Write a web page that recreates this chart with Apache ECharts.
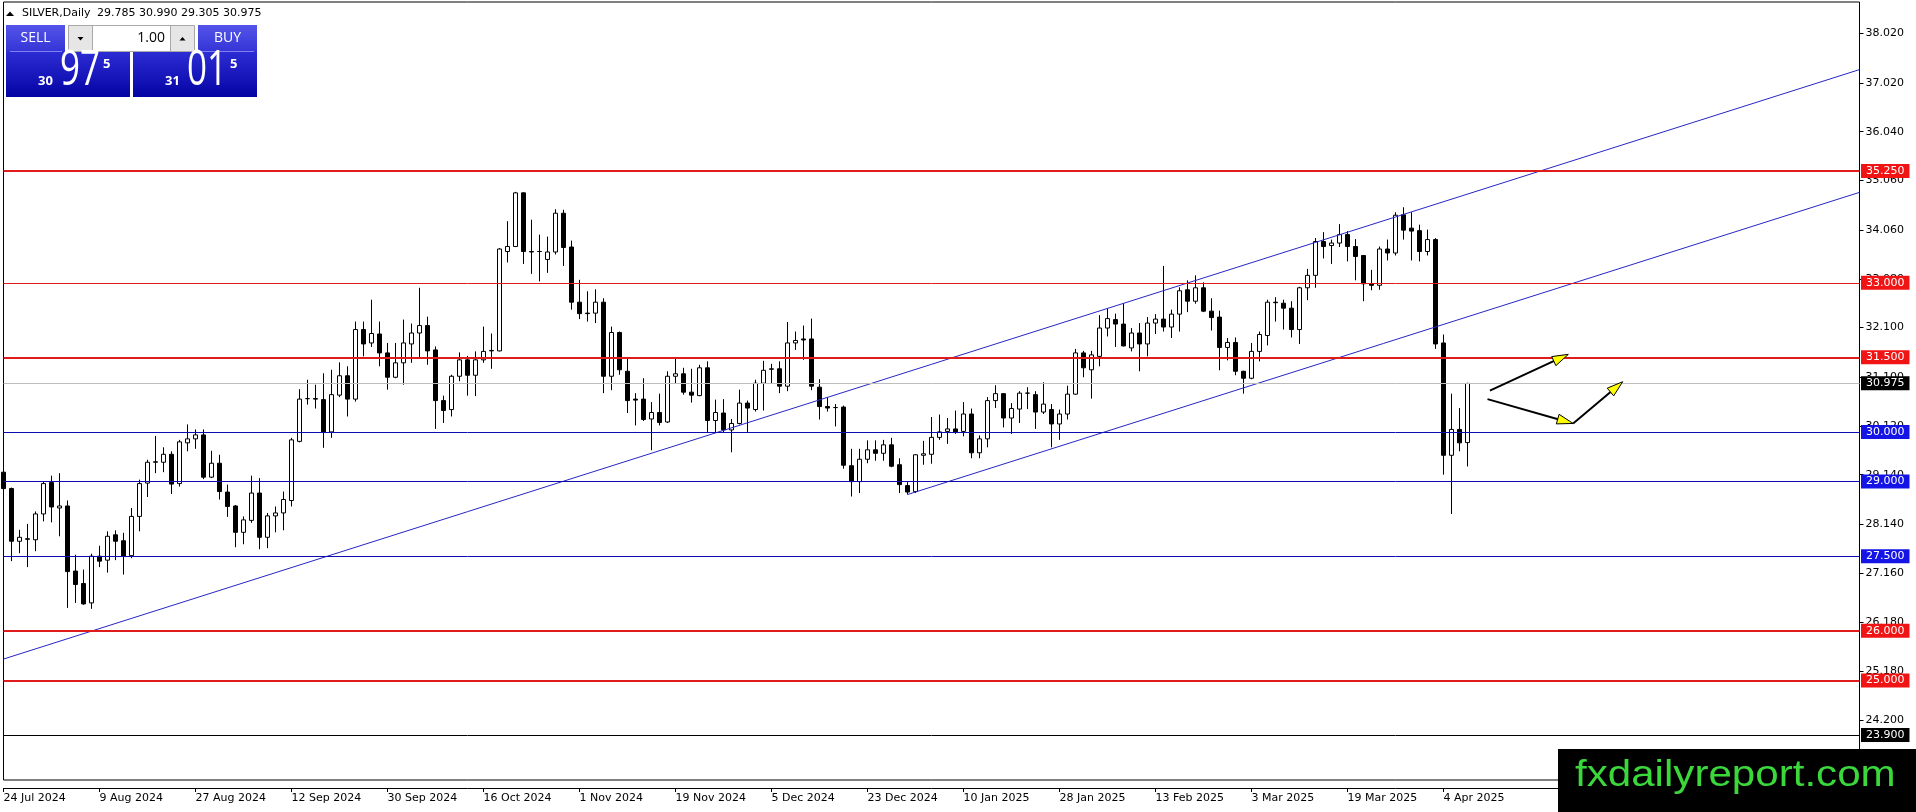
<!DOCTYPE html>
<html>
<head>
<meta charset="utf-8">
<title>SILVER, Daily</title>
<script src="https://cdn.jsdelivr.net/npm/echarts@6/dist/echarts.min.js"></script>
<style>
  html, body { margin: 0; padding: 0; background: #fff; }
  #chart { width: 1916px; height: 812px; }
</style>
</head>
<body>
<div id="chart"></div>
<script>
// ---- daily bars, 24 Jul 2024 .. 9 Apr 2025 ----
const opens = [
  29.19, 28.86, 27.80, 27.85, 27.83, 28.35, 28.98, 28.47, 28.51, 27.20,
  26.95, 26.56, 27.50, 27.42, 27.93, 27.81, 27.51, 28.30, 28.97, 29.39,
  29.39, 29.55, 28.96, 29.78, 29.86, 29.94, 29.09, 29.37, 28.79, 28.51,
  27.98, 28.22, 28.77, 27.88, 28.31, 28.37, 28.62, 29.81, 30.67, 30.67,
  30.65, 30.00, 30.74, 31.13, 30.66, 32.06, 31.79, 31.97, 31.59, 31.10,
  31.39, 31.77, 31.99, 32.14, 31.65, 30.63, 30.45, 31.12, 31.45, 31.14,
  31.45, 31.63, 31.63, 33.63, 33.73, 34.81, 33.63, 33.63, 33.47, 33.62,
  34.40, 33.72, 32.61, 32.39, 32.39, 32.61, 31.12, 32.00, 31.22, 30.66,
  30.66, 30.26, 30.39, 30.20, 31.12, 31.17, 30.80, 30.73, 31.29, 30.23,
  30.38, 30.04, 30.17, 30.58, 30.45, 30.98, 31.26, 31.27, 30.92, 31.79,
  31.87, 31.87, 30.90, 30.51, 30.49, 30.50, 29.32, 29.00, 29.45, 29.64,
  29.57, 29.74, 29.34, 28.92, 28.80, 29.53, 29.55, 29.89, 30.01, 30.06,
  30.01, 30.36, 29.58, 29.86, 30.63, 30.77, 30.28, 30.46, 30.78, 30.75,
  30.40, 30.45, 30.16, 30.36, 30.76, 31.59, 31.25, 31.52, 32.09, 32.26,
  32.17, 31.69, 31.99, 31.77, 32.19, 32.27, 32.11, 32.37, 32.86, 32.63,
  32.90, 32.43, 32.31, 31.70, 31.80, 31.22, 31.08, 31.62, 31.94, 32.61,
  32.59, 32.49, 32.06, 32.90, 33.15, 33.83, 33.75, 33.80, 33.97, 33.73,
  33.55, 32.98, 32.95, 33.68, 33.60, 34.37, 34.10, 34.05, 33.63, 33.87,
  31.79, 29.53, 30.05, 29.785
];
const highs = [
  29.41, 28.88, 28.03, 28.15, 28.40, 29.00, 29.12, 29.17, 28.62, 27.53,
  27.23, 27.55, 27.71, 28.00, 28.02, 27.97, 28.47, 29.04, 29.44, 29.92,
  29.69, 29.61, 29.84, 30.15, 30.05, 30.05, 29.62, 29.54, 28.94, 28.53,
  28.30, 29.12, 29.07, 28.37, 28.50, 28.80, 29.88, 30.86, 31.05, 30.95,
  31.18, 31.25, 31.40, 31.32, 32.22, 32.22, 32.66, 32.22, 31.79, 31.79,
  32.26, 32.18, 32.90, 32.32, 31.72, 30.73, 31.15, 31.60, 31.53, 31.62,
  32.12, 31.98, 33.70, 34.24, 34.83, 34.82, 34.27, 33.97, 33.93, 34.48,
  34.47, 33.85, 33.06, 32.83, 32.87, 32.69, 32.12, 32.02, 31.49, 30.78,
  31.08, 30.60, 30.77, 31.22, 31.49, 31.29, 31.27, 31.35, 31.42, 30.65,
  30.66, 30.26, 30.85, 30.63, 31.05, 31.43, 31.37, 31.42, 32.21, 32.02,
  32.14, 32.28, 31.06, 30.70, 30.56, 30.53, 29.66, 29.66, 29.83, 29.83,
  29.84, 29.88, 29.47, 28.99, 29.55, 29.82, 30.30, 30.35, 30.28, 30.43,
  30.60, 30.47, 29.93, 30.70, 30.94, 30.78, 30.58, 30.82, 30.90, 30.82,
  31.00, 30.56, 30.45, 30.93, 31.67, 31.63, 31.63, 32.35, 32.49, 32.38,
  32.59, 32.09, 32.19, 32.31, 32.37, 33.34, 32.46, 32.91, 33.05, 33.15,
  33.01, 32.69, 32.44, 31.89, 31.90, 31.23, 31.79, 32.02, 32.66, 32.71,
  32.66, 32.63, 32.92, 33.28, 33.90, 34.02, 33.87, 34.18, 34.04, 33.88,
  33.55, 33.26, 33.73, 33.87, 34.42, 34.52, 34.42, 34.17, 34.07, 33.90,
  31.96, 30.77, 30.48, 30.990
];
const lows = [
  28.80, 27.40, 27.56, 27.28, 27.60, 28.20, 28.18, 27.90, 26.46, 26.56,
  26.52, 26.44, 27.28, 27.17, 27.42, 27.13, 27.46, 28.00, 28.69, 29.17,
  29.19, 28.75, 28.90, 29.61, 29.66, 29.05, 29.07, 28.64, 28.29, 27.68,
  27.74, 28.17, 27.64, 27.66, 27.98, 28.02, 28.50, 29.79, 30.55, 30.47,
  29.68, 29.88, 30.70, 30.31, 30.61, 31.52, 31.71, 31.32, 30.85, 31.08,
  30.95, 31.39, 31.47, 31.35, 30.06, 30.18, 30.31, 31.02, 30.73, 30.72,
  31.39, 31.27, 31.62, 33.41, 33.72, 33.38, 33.18, 33.03, 33.20, 33.57,
  33.34, 32.46, 32.27, 32.22, 32.19, 30.78, 30.84, 31.15, 30.38, 30.13,
  30.22, 29.63, 30.13, 30.18, 30.98, 30.75, 30.59, 30.72, 30.00, 29.98,
  29.98, 29.59, 30.15, 30.00, 30.41, 30.43, 30.98, 30.78, 30.82, 31.65,
  31.45, 30.84, 30.25, 30.41, 30.11, 29.26, 28.70, 28.77, 29.37, 29.42,
  29.42, 29.29, 28.77, 28.74, 28.77, 29.34, 29.36, 29.84, 29.76, 29.96,
  29.91, 29.47, 29.47, 29.69, 30.48, 30.09, 29.96, 30.18, 30.46, 30.06,
  30.36, 29.69, 29.84, 30.25, 30.75, 31.10, 30.67, 31.32, 31.92, 31.71,
  31.72, 31.62, 31.22, 31.52, 31.97, 32.02, 31.89, 32.02, 32.41, 32.58,
  32.41, 32.04, 31.24, 31.44, 31.14, 30.77, 31.06, 31.42, 31.74, 32.22,
  32.06, 31.90, 31.77, 32.65, 32.90, 33.49, 33.38, 33.72, 33.43, 33.05,
  32.63, 32.85, 32.86, 33.45, 33.55, 33.87, 33.45, 33.43, 33.55, 31.67,
  29.14, 28.35, 29.61, 29.305
];
const closes = [
  28.86, 27.80, 27.88, 27.84, 28.35, 28.96, 28.49, 28.51, 27.19, 26.93,
  26.54, 27.50, 27.40, 27.90, 27.80, 27.50, 28.30, 28.96, 29.39, 29.40,
  29.55, 28.95, 29.80, 29.86, 29.94, 29.09, 29.37, 28.80, 28.50, 27.98,
  28.23, 28.77, 27.88, 28.31, 28.37, 28.64, 29.84, 30.66, 30.67, 30.66,
  30.00, 30.75, 31.13, 30.66, 32.06, 31.77, 31.98, 31.59, 31.10, 31.39,
  31.79, 31.99, 32.14, 31.63, 30.63, 30.43, 31.12, 31.45, 31.14, 31.45,
  31.62, 31.64, 33.68, 33.73, 34.81, 33.63, 33.62, 33.63, 33.62, 34.40,
  33.71, 32.61, 32.38, 32.38, 32.61, 31.12, 32.00, 31.25, 30.63, 30.64,
  30.25, 30.39, 30.19, 31.12, 31.17, 30.80, 30.74, 31.29, 30.23, 30.39,
  30.04, 30.17, 30.58, 30.48, 30.98, 31.24, 31.27, 30.92, 31.79, 31.84,
  31.85, 30.92, 30.51, 30.48, 30.49, 29.33, 29.00, 29.45, 29.64, 29.57,
  29.74, 29.31, 28.94, 28.79, 29.54, 29.56, 29.89, 30.00, 30.06, 30.00,
  30.36, 29.58, 29.86, 30.63, 30.77, 30.28, 30.47, 30.78, 30.78, 30.40,
  30.56, 30.16, 30.36, 30.76, 31.59, 31.29, 31.55, 32.09, 32.28, 32.17,
  31.73, 31.99, 31.77, 32.19, 32.27, 32.11, 32.37, 32.84, 32.63, 32.90,
  32.43, 32.30, 31.70, 31.80, 31.22, 31.08, 31.62, 31.96, 32.61, 32.60,
  32.49, 32.06, 32.90, 33.15, 33.83, 33.73, 33.80, 33.97, 33.73, 33.53,
  32.98, 32.95, 33.68, 33.60, 34.36, 34.06, 34.04, 33.63, 33.87, 31.77,
  29.53, 30.05, 29.78, 30.975
];

// ---- axis labels ----
const dateTicks = [
  '24 Jul 2024', '9 Aug 2024', '27 Aug 2024', '12 Sep 2024', '30 Sep 2024',
  '16 Oct 2024', '1 Nov 2024', '19 Nov 2024', '5 Dec 2024', '23 Dec 2024',
  '10 Jan 2025', '28 Jan 2025', '13 Feb 2025', '3 Mar 2025', '19 Mar 2025',
  '4 Apr 2025'
];
const priceTicks = [24.2, 25.18, 26.18, 27.16, 28.14, 29.14, 30.12, 31.1,
  32.1, 33.08, 34.06, 35.06, 36.04, 37.02, 38.02];

// ---- drawn objects ----
const redLevels = [35.25, 33.0, 31.5, 26.0, 25.0];
const blueLevels = [30.0, 29.0, 27.5];
const bottomLevel = 23.9;
const bidPrice = 30.975;
const askPrice = 31.015;
const lotSize = 1.00;
const channelUpper = [[0, 25.43], [232, 37.29]];
const channelLower = [[113, 28.74], [232, 34.82]];
const arrowSegments = [
  [185.8, 30.83, 195.6, 31.56],
  [185.5, 30.66, 196.2, 30.17],
  [196.2, 30.17, 202.4, 31.01]
];

// trading days, weekends and the two closed days skipped; room to the right of the last bar
const closedDays = ['2024-12-25', '2025-01-01'];
const slotCount = 233;
const categories = [];
for (let d = new Date(Date.UTC(2024, 6, 24)); categories.length < slotCount; d.setUTCDate(d.getUTCDate() + 1)) {
  const iso = d.toISOString().slice(0, 10);
  const wd = d.getUTCDay();
  if (wd !== 0 && wd !== 6 && closedDays.indexOf(iso) < 0) categories.push(iso);
}

const FONT = '"DejaVu Sans", Verdana, sans-serif';
const PANEL_FONT = '"Open Sans", "DejaVu Sans", sans-serif';
const RED = '#e01b1b';
const RED_TAG = '#f01414';
const BLUE = '#0c0cb0';
const BLUE_TAG = '#1414e6';

function level(value, color, width, tagColor) {
  return {
    yAxis: value,
    lineStyle: { color: color, width: width, type: 'solid' },
    label: {
      show: true,
      position: 'end',
      distance: 1.5,
      formatter: value.toFixed(3),
      backgroundColor: tagColor,
      color: '#fff',
      fontFamily: FONT,
      fontSize: 11,
      lineHeight: 13,
      padding: [1, 5, 0, 5]
    }
  };
}

const levelLines = [
  level(redLevels[0], RED, 2, RED_TAG),
  level(redLevels[1], RED, 1, RED_TAG),
  level(redLevels[2], RED, 2, RED_TAG),
  level(redLevels[3], RED, 2, RED_TAG),
  level(redLevels[4], RED, 2, RED_TAG),
  level(blueLevels[0], BLUE, 1, BLUE_TAG),
  level(blueLevels[1], BLUE, 1, BLUE_TAG),
  level(blueLevels[2], BLUE, 1, BLUE_TAG),
  level(bidPrice, '#bdbdbd', 1, '#000'),
  level(bottomLevel, '#000', 1, '#000')
];

const candles = opens.map((o, i) => [o, closes[i], lows[i], highs[i]]);
const last = opens.length - 1;

// one-click trading panel pieces
function splitQuote(p) {
  const s = p.toFixed(3);
  return { head: s.slice(0, 2), big: s.slice(3, 5), tail: s.slice(5) };
}
const bidParts = splitQuote(bidPrice);
const askParts = splitQuote(askPrice);

const btnGrad = () => new echarts.graphic.LinearGradient(0, 0, 0, 1, [
  { offset: 0, color: '#5454ea' }, { offset: 1, color: '#3434d6' }
]);
const priceGrad = () => new echarts.graphic.LinearGradient(0, 0, 0, 1, [
  { offset: 0, color: '#2c2cd4' }, { offset: 1, color: '#0404a4' }
]);

function quoteBlock(x, parts) {
  return [
    { type: 'rect', shape: { x: x, y: 52, width: 124, height: 45 }, style: { fill: priceGrad() } },
    { type: 'text', x: x + 32, y: 81, style: { text: parts.head, fill: '#fff', font: 'bold 13px ' + PANEL_FONT, verticalAlign: 'middle' } },
    { type: 'text', x: x + 54, y: 71, scaleX: 0.7, style: { text: parts.big, fill: '#fff', font: '50px ' + PANEL_FONT, verticalAlign: 'middle' } },
    { type: 'text', x: x + 97, y: 64, style: { text: parts.tail, fill: '#fff', font: 'bold 13px ' + PANEL_FONT, verticalAlign: 'middle' } }
  ];
}

const panel = [].concat(
  [
    { type: 'polygon', shape: { points: [[6, 16], [10, 11.5], [14, 16]] }, style: { fill: '#000' } },
    { type: 'text', x: 22, y: 13, style: { text: 'SILVER,Daily', fill: '#000', font: '11px ' + FONT, verticalAlign: 'middle' } },
    { type: 'text', x: 97, y: 13, style: {
      text: [opens[last], highs[last], lows[last], closes[last]].map(v => v.toFixed(3)).join(' '),
      fill: '#000', font: '11px ' + FONT, verticalAlign: 'middle' } },
    // SELL button
    { type: 'rect', shape: { x: 6, y: 25, width: 59, height: 27 }, style: { fill: btnGrad() } },
    { type: 'line', shape: { x1: 10, y1: 51.5, x2: 62, y2: 51.5 }, style: { stroke: '#8080f0', lineWidth: 1 } },
    { type: 'text', x: 35.5, y: 38.5, style: { text: 'SELL', fill: '#fff', font: '14px ' + PANEL_FONT, align: 'center', verticalAlign: 'middle' } },
    // lot box
    { type: 'rect', shape: { x: 68.5, y: 25.5, width: 126, height: 26 }, style: { fill: '#fff', stroke: '#a8a8a8', lineWidth: 1 } },
    { type: 'rect', shape: { x: 68.5, y: 25.5, width: 24, height: 26 }, style: { fill: '#e6e6e6', stroke: '#a8a8a8', lineWidth: 1 } },
    { type: 'rect', shape: { x: 170.5, y: 25.5, width: 24, height: 26 }, style: { fill: '#e6e6e6', stroke: '#a8a8a8', lineWidth: 1 } },
    { type: 'polygon', shape: { points: [[77.5, 37], [83.5, 37], [80.5, 40.5]] }, style: { fill: '#000' } },
    { type: 'polygon', shape: { points: [[179.5, 40.5], [185.5, 40.5], [182.5, 37]] }, style: { fill: '#000' } },
    { type: 'text', x: 165, y: 38.5, style: { text: lotSize.toFixed(2), fill: '#000', font: '14px ' + PANEL_FONT, align: 'right', verticalAlign: 'middle' } },
    // BUY button
    { type: 'rect', shape: { x: 198, y: 25, width: 59, height: 27 }, style: { fill: btnGrad() } },
    { type: 'line', shape: { x1: 201, y1: 51.5, x2: 254, y2: 51.5 }, style: { stroke: '#8080f0', lineWidth: 1 } },
    { type: 'text', x: 227.5, y: 38.5, style: { text: 'BUY', fill: '#fff', font: '14px ' + PANEL_FONT, align: 'center', verticalAlign: 'middle' } }
  ],
  quoteBlock(6, bidParts),
  quoteBlock(133, askParts),
  [
    // site stamp, bottom right
    { type: 'rect', shape: { x: 1558, y: 749, width: 358, height: 63 }, style: { fill: '#000' } },
    { type: 'text', x: 1575, y: 776, scaleX: 1.17, style: { text: 'fxdailyreport.com', fill: '#3bd83b', font: '36px "Liberation Sans", Arial, sans-serif', verticalAlign: 'middle' } }
  ]
).map(el => Object.assign({ z: 100, silent: true }, el));

const chart = echarts.init(document.getElementById('chart'));

chart.setOption({
  animation: false,
  backgroundColor: '#fff',
  grid: {
    left: 3.5, right: 56.5, top: 2, bottom: 32,
    show: true, borderColor: '#000', borderWidth: 1, backgroundColor: '#fff'
  },
  xAxis: [
    {
      type: 'category',
      data: categories,
      boundaryGap: false,
      offset: 8,
      axisLine: { show: true, onZero: false, lineStyle: { color: '#000', width: 1 } },
      axisTick: {
        show: true, length: 4, lineStyle: { color: '#000' },
        interval: (i) => i % 12 === 0 && i <= last
      },
      axisLabel: {
        show: true,
        interval: (i) => i % 12 === 0 && i <= last,
        formatter: (v, i) => dateTicks[i / 12] || '',
        align: 'left', margin: 5,
        color: '#000', fontFamily: FONT, fontSize: 11
      },
      splitLine: { show: false }
    },
    { type: 'value', min: 0, max: slotCount - 1, show: false, axisLine: { onZero: false } }
  ],
  yAxis: {
    type: 'value',
    position: 'right',
    min: 22.9965,
    max: 38.65,
    axisLine: { show: false, onZero: false },
    axisTick: { show: true, customValues: priceTicks, length: 4, lineStyle: { color: '#000' } },
    axisLabel: {
      show: true, customValues: priceTicks, margin: 6,
      formatter: (v) => v.toFixed(3),
      color: '#000', fontFamily: FONT, fontSize: 11
    },
    splitLine: { show: false }
  },
  series: [
    {
      type: 'candlestick',
      data: candles,
      barWidth: 5,
      clip: true,
      itemStyle: {
        color: '#fff', color0: '#000',
        borderColor: '#000', borderColor0: '#000', borderWidth: 1
      },
      markLine: {
        silent: true,
        symbol: ['none', 'none'],
        animation: false,
        data: levelLines
      }
    },
    {
      type: 'line', xAxisIndex: 1, data: channelUpper, showSymbol: false, silent: true,
      lineStyle: { color: '#2626c4', width: 1 }
    },
    {
      type: 'line', xAxisIndex: 1, data: channelLower, showSymbol: false, silent: true,
      lineStyle: { color: '#2626c4', width: 1 }
    },
    {
      type: 'custom', xAxisIndex: 1, silent: true, z: 5,
      data: arrowSegments,
      encode: { x: [0, 2], y: [1, 3] },
      renderItem: function (params, api) {
        const a = api.coord([api.value(0), api.value(1)]);
        const b = api.coord([api.value(2), api.value(3)]);
        const dx = b[0] - a[0], dy = b[1] - a[1];
        const len = Math.sqrt(dx * dx + dy * dy);
        const ux = dx / len, uy = dy / len;
        const headLen = 16, headHalf = 5;
        const bx = b[0] - ux * headLen, by = b[1] - uy * headLen;
        return {
          type: 'group',
          children: [
            { type: 'line', shape: { x1: a[0], y1: a[1], x2: bx + ux * 4, y2: by + uy * 4 },
              style: { stroke: '#000', lineWidth: 2 } },
            { type: 'polygon',
              shape: { points: [[b[0], b[1]], [bx - uy * headHalf, by + ux * headHalf], [bx + uy * headHalf, by - ux * headHalf]] },
              style: { fill: '#ffff00', stroke: '#000', lineWidth: 1 } }
          ]
        };
      }
    }
  ],
  graphic: panel
});
</script>
</body>
</html>
